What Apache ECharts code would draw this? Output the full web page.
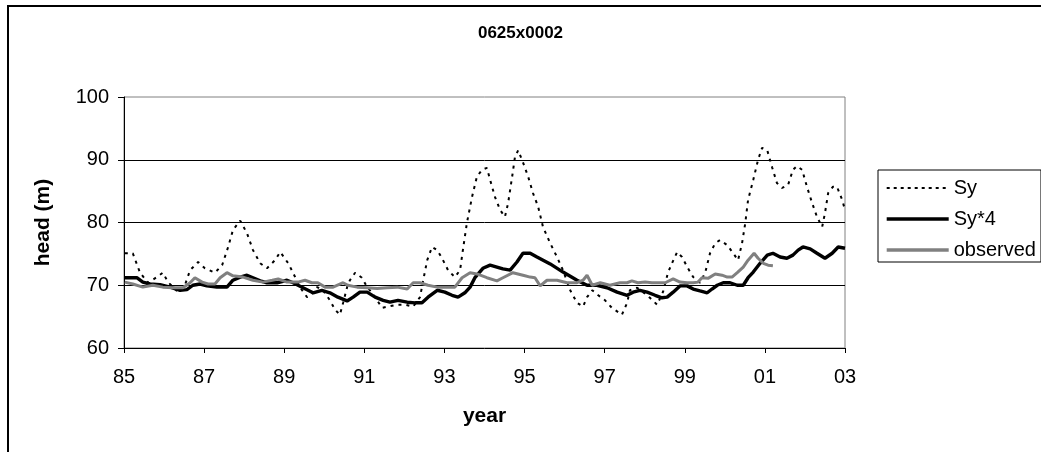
<!DOCTYPE html>
<html><head><meta charset="utf-8">
<script src="https://cdn.jsdelivr.net/npm/echarts@6/dist/echarts.min.js"></script>
<style>html,body{margin:0;padding:0;background:#fff}#c{width:1041px;height:452px}</style>
</head><body><div id="c"></div>
<script>
const chartTitle = '0625x0002';
const xTickLabels = ['85','87','89','91','93','95','97','99','01','03'];
const seriesNames = ['Sy', 'Sy*4', 'observed'];

const syYears = [1985.02,1985.22,1985.40,1985.60,1985.82,1985.97,1986.10,1986.35,1986.52,1986.65,
 1986.85,1987.02,1987.27,1987.45,1987.60,1987.72,1987.90,1988.07,1988.22,1988.40,
 1988.57,1988.77,1988.90,1989.10,1989.22,1989.39,1989.57,1989.72,1989.82,1989.97,
 1990.14,1990.27,1990.39,1990.47,1990.57,1990.64,1990.77,1990.94,1991.07,1991.19,
 1991.32,1991.44,1991.59,1991.82,1992.02,1992.22,1992.39,1992.47,1992.57,1992.69,
 1992.82,1992.94,1993.09,1993.26,1993.39,1993.46,1993.56,1993.69,1993.81,1993.94,
 1994.06,1994.14,1994.26,1994.39,1994.51,1994.59,1994.69,1994.76,1994.84,1994.96,
 1995.09,1995.21,1995.34,1995.46,1995.64,1995.81,1995.96,1996.14,1996.31,1996.46,
 1996.56,1996.69,1996.84,1997.01,1997.18,1997.43,1997.56,1997.63,1997.81,1997.96,
 1998.13,1998.31,1998.46,1998.58,1998.68,1998.81,1998.93,1999.08,1999.21,1999.38,
 1999.51,1999.63,1999.76,1999.88,2000.06,2000.21,2000.33,2000.43,2000.51,2000.58,
 2000.71,2000.83,2000.93,2001.06,2001.18,2001.30,2001.43,2001.58,2001.70,2001.80,
 2001.93,2002.05,2002.18,2002.30,2002.43,2002.50,2002.58,2002.70,2002.80,2002.93,
 2003.00];
const syValues = [75.1,75.1,72.0,70.4,71.3,72.0,70.5,68.9,70.0,72.4,
 73.7,72.7,72.0,73.2,76.1,78.8,80.3,78.3,75.6,73.5,
 72.7,74.0,75.3,73.5,72.0,69.7,68.1,68.8,69.7,69.2,
 67.6,66.1,65.3,67.2,69.7,70.8,72.0,71.2,69.7,68.8,
 67.6,66.4,66.6,66.9,66.9,66.6,68.1,70.8,74.0,76.1,
 75.6,74.3,72.4,71.3,72.4,75.6,79.9,84.1,87.3,88.4,
 88.7,86.8,84.1,82.0,80.9,83.1,87.3,90.4,91.5,89.6,
 87.3,84.7,82.5,79.3,76.7,74.5,72.4,69.2,67.2,66.6,
 68.1,69.2,68.4,67.6,66.4,65.3,67.2,69.2,69.6,68.9,
 68.0,66.9,69.0,72.0,73.5,75.3,74.5,72.7,71.3,70.4,
 72.0,75.1,76.7,77.2,76.4,75.1,74.0,76.7,79.9,83.6,
 86.8,90.0,91.9,91.5,88.8,86.3,85.5,86.0,88.4,89.0,
 88.4,85.7,83.1,80.9,79.3,81.5,84.7,85.7,85.7,83.6,
 82.0];

const sy4Years = [1985.02,1985.32,1985.47,1985.65,1985.90,1986.15,1986.40,1986.57,1986.72,1986.90,
 1987.07,1987.32,1987.57,1987.72,1987.90,1988.07,1988.22,1988.40,1988.57,1988.82,
 1989.07,1989.22,1989.47,1989.72,1989.94,1990.14,1990.34,1990.57,1990.72,1990.89,
 1991.07,1991.27,1991.47,1991.64,1991.84,1992.07,1992.27,1992.44,1992.59,1992.82,
 1993.01,1993.19,1993.34,1993.51,1993.64,1993.76,1993.96,1994.14,1994.31,1994.46,
 1994.64,1994.81,1994.96,1995.14,1995.31,1995.64,1995.96,1996.31,1996.56,1996.81,
 1997.06,1997.31,1997.56,1997.71,1997.88,1998.06,1998.26,1998.43,1998.56,1998.71,
 1998.88,1999.06,1999.21,1999.38,1999.56,1999.68,1999.81,1999.96,2000.13,2000.31,
 2000.46,2000.58,2000.71,2000.88,2001.06,2001.20,2001.38,2001.55,2001.70,2001.83,
 2001.95,2002.13,2002.30,2002.50,2002.68,2002.83,2003.00];
const sy4Values = [71.2,71.2,70.5,70.2,70.1,69.7,69.2,69.3,70.0,70.2,
 69.9,69.7,69.7,70.8,71.3,71.6,71.2,70.7,70.4,70.4,
 70.8,70.4,69.6,68.8,69.2,68.8,68.1,67.5,68.1,68.9,
 68.9,68.1,67.6,67.3,67.6,67.3,67.2,67.2,68.1,69.2,
 68.9,68.4,68.1,68.8,69.7,71.2,72.7,73.2,72.9,72.6,
 72.4,73.7,75.1,75.1,74.5,73.4,72.1,70.8,70.0,70.0,
 69.6,68.9,68.4,68.9,69.2,68.9,68.4,68.0,68.1,68.9,
 69.9,69.9,69.4,69.1,68.8,69.4,70.0,70.4,70.4,70.0,
 70.0,71.2,72.1,73.5,74.8,75.1,74.5,74.3,74.8,75.6,
 76.1,75.8,75.1,74.3,75.1,76.1,75.9];

const obsYears = [1985.02,1985.22,1985.47,1985.72,1985.97,1986.22,1986.47,1986.65,1986.77,1986.95,
 1987.10,1987.27,1987.40,1987.57,1987.72,1987.97,1988.22,1988.47,1988.70,1988.85,
 1989.07,1989.34,1989.52,1989.69,1989.84,1990.02,1990.22,1990.47,1990.59,1990.82,
 1991.07,1991.32,1991.57,1991.82,1992.07,1992.22,1992.39,1992.59,1992.82,1993.06,
 1993.26,1993.44,1993.64,1993.81,1994.06,1994.31,1994.46,1994.71,1994.96,1995.14,
 1995.26,1995.39,1995.56,1995.81,1996.06,1996.31,1996.46,1996.56,1996.69,1996.89,
 1997.13,1997.38,1997.56,1997.68,1997.83,1998.01,1998.18,1998.33,1998.51,1998.71,
 1998.88,1999.06,1999.21,1999.33,1999.43,1999.58,1999.76,1999.93,2000.06,2000.18,
 2000.31,2000.46,2000.58,2000.73,2000.83,2000.96,2001.08,2001.20];
const obsValues = [70.5,70.2,69.7,70.0,69.7,69.6,69.6,70.4,71.2,70.5,
 70.2,70.2,71.2,72.0,71.5,71.3,70.8,70.5,70.8,71.0,
 70.5,70.5,70.8,70.4,70.4,69.7,69.7,70.4,70.0,69.7,
 69.6,69.5,69.6,69.7,69.4,70.4,70.4,70.0,69.7,69.7,
 69.7,71.2,72.0,71.8,71.2,70.7,71.2,72.0,71.6,71.3,
 71.2,69.9,70.8,70.8,70.4,70.4,70.8,71.6,70.0,70.4,
 70.0,70.4,70.4,70.7,70.4,70.5,70.4,70.4,70.4,71.0,
 70.5,70.4,70.4,70.5,71.2,71.1,71.8,71.6,71.3,71.3,
 72.0,72.9,74.0,75.1,74.3,73.5,73.2,73.1];

const zip = (xs, ys) => xs.map((x, i) => [x, ys[i]]);
const FONT = '"Liberation Sans", Arial, sans-serif';

const chart = echarts.init(document.getElementById('c'), null, {renderer: 'canvas'});
chart.setOption({
  animation: false,
  backgroundColor: '#fff',
  title: {
    text: chartTitle, left: 'center', top: 25, padding: 0,
    textStyle: {fontFamily: FONT, fontSize: 17, fontWeight: 'bold', color: '#000'}
  },
  graphic: [{
    type: 'rect', silent: true, z: -10,
    shape: {x: 8, y: 6, width: 1200, height: 600},
    style: {fill: 'none', stroke: '#000', lineWidth: 2}
  }],
  legend: {
    orient: 'vertical', left: 878, top: 170,
    padding: [8, 5, 2, 7], itemGap: 11, itemWidth: 62, itemHeight: 14,
    borderColor: '#000', borderWidth: 1, backgroundColor: '#fff',
    itemStyle: {opacity: 0, borderWidth: 0},
    textStyle: {fontFamily: FONT, fontSize: 20, color: '#000', lineHeight: 20},
    data: [
      {name: seriesNames[0], lineStyle: {width: 2, type: [3, 4], color: '#000'}},
      {name: seriesNames[1], lineStyle: {width: 3.4, color: '#000'}},
      {name: seriesNames[2], lineStyle: {width: 3.4, color: '#808080'}}
    ]
  },
  grid: {left: 124, top: 97, right: 196, bottom: 104, show: true,
         borderColor: '#808080', borderWidth: 1, backgroundColor: '#fff'},
  xAxis: {
    type: 'value', min: 1985, max: 2003, interval: 2,
    name: 'year', nameLocation: 'middle', nameGap: 58,
    nameTextStyle: {fontFamily: FONT, fontSize: 21, fontWeight: 'bold', color: '#000'},
    axisLine: {lineStyle: {color: '#000', width: 1}},
    axisTick: {length: 5, lineStyle: {color: '#000'}},
    axisLabel: {fontFamily: FONT, fontSize: 20, color: '#000', margin: 19,
      formatter: v => xTickLabels[Math.round((v - 1985) / 2)]},
    splitLine: {show: false}
  },
  yAxis: {
    type: 'value', min: 60, max: 100, interval: 10,
    name: 'head (m)', nameLocation: 'middle', nameGap: 70, nameRotate: 90,
    nameTextStyle: {fontFamily: FONT, fontSize: 21, fontWeight: 'bold', color: '#000'},
    axisLine: {show: true, lineStyle: {color: '#000', width: 1}},
    axisTick: {show: true, length: 6, lineStyle: {color: '#000'}},
    axisLabel: {fontFamily: FONT, fontSize: 20, color: '#000', margin: 15},
    splitLine: {show: true, showMinLine: false, showMaxLine: false, lineStyle: {color: '#000', width: 1}}
  },
  series: [
    {name: seriesNames[0], type: 'line', symbol: 'none', data: zip(syYears, syValues),
     lineStyle: {color: '#000', width: 2, type: [3, 5]}, itemStyle: {color: '#000'}},
    {name: seriesNames[1], type: 'line', symbol: 'none', data: zip(sy4Years, sy4Values),
     lineStyle: {color: '#000', width: 3.4}, itemStyle: {color: '#000'}},
    {name: seriesNames[2], type: 'line', symbol: 'none', data: zip(obsYears, obsValues),
     lineStyle: {color: '#808080', width: 3}, itemStyle: {color: '#808080'}}
  ]
});
</script></body></html>
